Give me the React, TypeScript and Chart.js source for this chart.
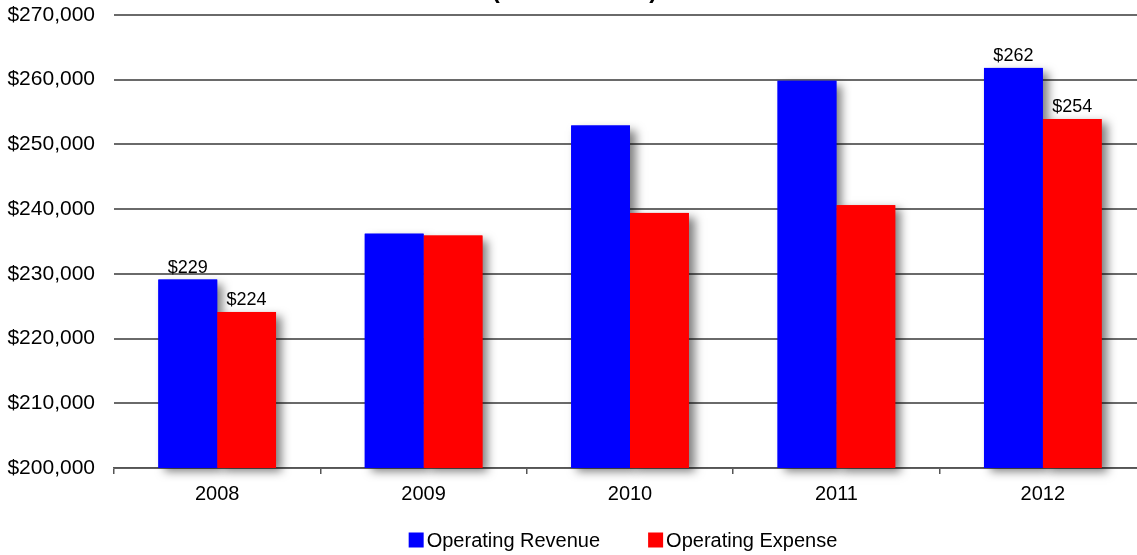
import React, { useEffect, useRef } from 'react';
import { Chart, registerables } from 'chart.js';

Chart.register(...registerables);

const categories = ['2008', '2009', '2010', '2011', '2012'];
const seriesNames = ['Operating Revenue', 'Operating Expense'];
const seriesColors = ['#0000ff', '#ff0000'];
const revenue = [229100, 236200, 252900, 259800, 261800];
const expense = [224100, 235900, 239400, 240600, 253900];
const labeledCategories = ['2008', '2012'];
const yMin = 200000;
const yMax = 270000;
const yStep = 10000;
const titleText = '(in thousands)';

const FONT = "'Liberation Sans', Arial, sans-serif";

const shadowPlugin = {
  id: 'barShadow',
  beforeDatasetsDraw(chart: any) {
    const ctx = chart.ctx;
    const area = chart.chartArea;
    ctx.save();
    ctx.shadowColor = 'rgba(0,0,0,0.5)';
    ctx.shadowBlur = 9;
    ctx.shadowOffsetX = 6;
    ctx.shadowOffsetY = 4;
    chart.data.datasets.forEach((ds: any, di: number) => {
      const meta = chart.getDatasetMeta(di);
      ctx.fillStyle = ds.backgroundColor;
      meta.data.forEach((el: any) => {
        const p = el.getProps(['x', 'y', 'base', 'width'], true);
        const bottom = Math.min(p.base, area.bottom);
        ctx.fillRect(p.x - p.width / 2, p.y, p.width, bottom - p.y);
      });
    });
    ctx.restore();
  },
};

const labelPlugin = {
  id: 'valueLabels',
  afterDatasetsDraw(chart: any) {
    const ctx = chart.ctx;
    ctx.save();
    ctx.font = `18px ${FONT}`;
    ctx.fillStyle = '#000';
    ctx.textAlign = 'center';
    ctx.textBaseline = 'bottom';
    chart.data.datasets.forEach((ds: any, di: number) => {
      const meta = chart.getDatasetMeta(di);
      meta.data.forEach((el: any, i: number) => {
        if (!labeledCategories.includes(categories[i])) return;
        const v = ds.data[i] as number;
        ctx.fillText('$' + Math.round(v / 1000), el.x, el.y - 3);
      });
    });
    ctx.restore();
  },
};

const legendPlugin = {
  id: 'customLegend',
  afterDraw(chart: any) {
    const ctx = chart.ctx;
    const area = chart.chartArea;
    ctx.save();
    ctx.font = `20px ${FONT}`;
    ctx.textBaseline = 'middle';
    ctx.textAlign = 'left';
    const box = 15;
    const gapText = 3;
    const gapItem = 48;
    const widths = seriesNames.map((n) => box + gapText + ctx.measureText(n).width);
    const total = widths.reduce((a, b) => a + b, 0) + gapItem * (widths.length - 1);
    let x = (area.left + area.right) / 2 - 7 - total / 2;
    const y = 570;
    seriesNames.forEach((n, i) => {
      ctx.fillStyle = seriesColors[i];
      ctx.fillRect(x, y - box / 2, box, box);
      ctx.fillStyle = '#000';
      ctx.fillText(n, x + box + gapText, y + 1);
      x += widths[i] + gapItem;
    });
    ctx.restore();
  },
};

export default function App() {
  const ref = useRef<HTMLCanvasElement | null>(null);
  useEffect(() => {
    if (!ref.current) return;
    const chart = new Chart(ref.current, {
      type: 'bar',
      data: {
        labels: categories,
        datasets: [
          {
            label: seriesNames[0],
            data: revenue,
            backgroundColor: seriesColors[0],
            borderWidth: 0,
          },
          {
            label: seriesNames[1],
            data: expense,
            backgroundColor: seriesColors[1],
            borderWidth: 0,
          },
        ],
      },
      plugins: [shadowPlugin, labelPlugin, legendPlugin],
      options: {
        responsive: false,
        animation: false,
        layout: { padding: { left: 3, right: 4, top: 7, bottom: 41 } },
        datasets: { bar: { categoryPercentage: 0.57, barPercentage: 1 } },
        plugins: {
          title: {
            display: true,
            text: titleText,
            color: '#000',
            font: { family: FONT, size: 24, weight: 'bold' },
            padding: { top: 0, bottom: 9 },
          },
          legend: { display: false },
          tooltip: { enabled: false },
        },
        scales: {
          x: {
            grid: {
              display: true,
              drawOnChartArea: false,
              drawTicks: true,
              tickLength: 6,
              color: '#555',
              lineWidth: 1.5,
            },
            border: { display: true, color: '#555', width: 1.5 },
            ticks: {
              color: '#000',
              font: { family: FONT, size: 20 },
              padding: 8,
            },
          },
          y: {
            min: yMin,
            max: yMax,
            afterFit: (scale: any) => {
              scale.width = 111;
            },
            grid: {
              drawTicks: false,
              color: '#6a6a6a',
              lineWidth: 2,
            },
            border: { display: false },
            ticks: {
              stepSize: yStep,
              color: '#000',
              font: { family: FONT, size: 21 },
              padding: 19,
              callback: (v: any) => '$' + Number(v).toLocaleString('en-US'),
            },
          },
        },
      },
    });
    return () => chart.destroy();
  }, []);
  return (
    <div style={{ position: 'absolute', left: 0, top: -30, width: 1150, height: 585 }}>
      <canvas ref={ref} width={1150} height={585} style={{ display: 'block' }} />
    </div>
  );
}
